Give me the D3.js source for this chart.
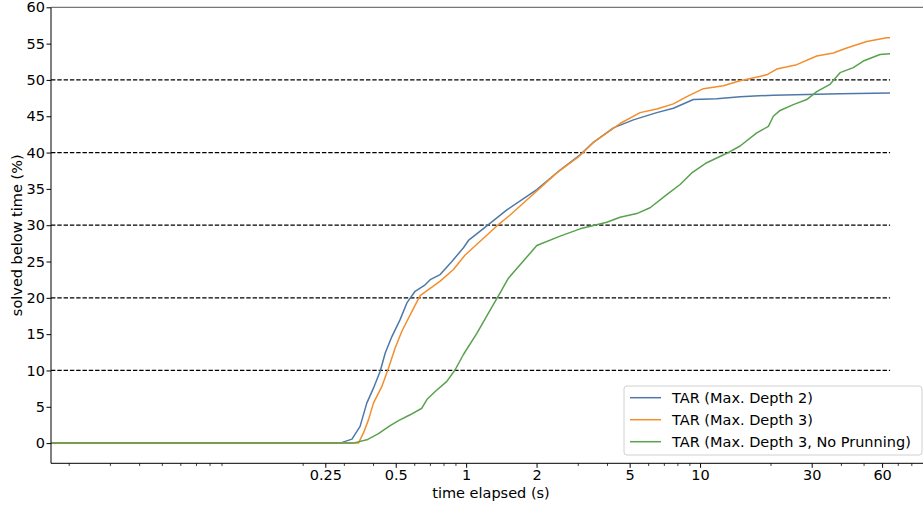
<!DOCTYPE html>
<html>
<head>
<meta charset="utf-8">
<script src="https://cdn.jsdelivr.net/npm/d3@7"></script>
<style>
  body { margin: 0; background: #fff; }
  svg { display: block; font-family: "DejaVu Sans", sans-serif; }
</style>
</head>
<body>
<div id="chart"></div>
<script>
const width = 923,
      height = 506;

const margin = {left: 51, right: 931, top: 7.3, bottom: 463.3};
const fontSize = 14.5;

// time elapsed (s)
const tMin = 0.0168, tMax = 64.9;

const depth2Time = [0.0168, 0.289, 0.325, 0.352, 0.376, 0.402, 0.429, 0.451, 0.482, 0.522, 0.558, 0.605, 0.668, 0.702,
  0.774, 0.869, 0.974, 1.023, 1.226, 1.493, 2.005, 2.522, 3.07, 3.499, 4.262, 5.188, 6.531, 7.69, 9.363, 11.79,
  14.83, 20.57, 28.58, 39.67, 64.86];
const depth2Value = [0, 0, 0.55, 2.3, 5.5, 7.6, 9.9, 12.4, 14.7, 17.0, 19.3, 20.9, 21.8, 22.5,
  23.2, 25.0, 26.9, 27.9, 29.9, 32.1, 34.9, 37.6, 39.7, 41.4, 43.4, 44.5, 45.5, 46.1, 47.3, 47.4,
  47.7, 47.9, 48.0, 48.1, 48.2];

const depth3Time = [0.0168, 0.3465, 0.364, 0.3823, 0.4016, 0.4362, 0.4655, 0.4972, 0.5311, 0.5859, 0.6359, 0.7018,
  0.7744, 0.8824, 0.9901, 1.353, 1.542, 2.005, 2.441, 3.019, 3.499, 4.55, 5.541, 6.531, 7.69, 8.773, 10.33,
  12.58, 14.83, 19.28, 21.27, 25.9, 31.53, 37.13, 42.37, 51.58, 62.8, 64.86];
const depth3Value = [0, 0, 1.4, 3.2, 5.5, 7.8, 10.3, 13.1, 15.4, 18.1, 20.3, 21.3,
  22.3, 23.9, 25.9, 29.9, 31.4, 34.7, 37.2, 39.4, 41.4, 44.0, 45.5, 46.0, 46.7, 47.7, 48.8,
  49.2, 49.9, 50.7, 51.5, 52.1, 53.3, 53.7, 54.4, 55.3, 55.8, 55.8];

const noPruneTime = [0.0168, 0.3289, 0.3763, 0.4218, 0.4734, 0.5138, 0.5763, 0.6467, 0.6794, 0.7373, 0.827, 0.8975,
  0.9738, 1.111, 1.245, 1.397, 1.516, 2.005, 2.522, 3.07, 3.995, 4.55, 5.364, 6.113, 7.205, 8.215, 9.216,
  10.68, 13.01, 14.83, 17.47, 19.59, 20.57, 21.98, 25.04, 28.58, 31.53, 35.94, 39.67, 45.19, 49.89, 58.78, 64.86];
const noPruneValue = [0, 0, 0.45, 1.3, 2.4, 3.1, 3.9, 4.8, 6.0, 7.1, 8.5, 10.1,
  12.2, 15.1, 17.9, 20.7, 22.7, 27.2, 28.5, 29.5, 30.4, 31.1, 31.6, 32.4, 34.2, 35.6, 37.2,
  38.6, 39.9, 40.9, 42.7, 43.6, 45.0, 45.8, 46.6, 47.3, 48.4, 49.4, 51.0, 51.7, 52.6, 53.5, 53.6];

const seriesNames = ['TAR (Max. Depth 2)', 'TAR (Max. Depth 3)', 'TAR (Max. Depth 3, No Prunning)'];
const seriesColors = ['#4e79a7', '#f28e2b', '#59a14f'];

const xTicks = [0.25, 0.5, 1, 2, 5, 10, 30, 60];
const xMinorTicks = [0.02, 0.03, 0.04, 0.05, 0.06, 0.07, 0.08, 0.09,
  0.2, 0.3, 0.4, 0.6, 0.7, 0.8, 0.9, 3, 4, 6, 7, 8, 9, 20, 40, 50, 70, 80, 90];
const yTicks = d3.range(0, 61, 5);
const gridValues = [10, 20, 30, 40, 50];

const series = [
  d3.zip(depth2Time, depth2Value),
  d3.zip(depth3Time, depth3Value),
  d3.zip(noPruneTime, noPruneValue)
];

const x = d3.scaleLog()
  .domain([tMin, 97.1])
  .range([margin.left, margin.right]);

const y = d3.scaleLinear()
  .domain([-2.78, 60])
  .range([margin.bottom, margin.top]);

const svg = d3.select('#chart').append('svg')
  .attr('width', width)
  .attr('height', height);

// dashed guide lines over the data extent
svg.append('g')
  .selectAll('line')
  .data(gridValues)
  .join('line')
    .attr('x1', x(tMin))
    .attr('x2', x(tMax))
    .attr('y1', d => y(d))
    .attr('y2', d => y(d))
    .attr('stroke', '#000')
    .attr('stroke-width', 1.2)
    .attr('stroke-dasharray', '4.4 1.9');

const line = d3.line()
  .x(d => x(d[0]))
  .y(d => y(d[1]));

svg.append('g')
  .selectAll('path')
  .data(series)
  .join('path')
    .attr('d', line)
    .attr('fill', 'none')
    .attr('stroke', (d, i) => seriesColors[i])
    .attr('stroke-width', 1.5)
    .attr('stroke-linejoin', 'round');

// axes
const xAxis = svg.append('g')
  .attr('transform', `translate(0,${margin.bottom})`)
  .call(d3.axisBottom(x).tickValues(xTicks).tickFormat(d => d).tickSize(4.5).tickPadding(1.5));
svg.append('g')
  .attr('transform', `translate(0,${margin.bottom})`)
  .call(d3.axisBottom(x).tickValues(xMinorTicks).tickFormat('').tickSize(2.6).tickSizeOuter(0))
  .call(g => g.select('.domain').remove())
  .selectAll('line').attr('stroke-width', 0.8);

const yAxis = svg.append('g')
  .attr('transform', `translate(${margin.left},0)`)
  .call(d3.axisLeft(y).tickValues(yTicks).tickSize(4.5).tickPadding(1.5));

[xAxis, yAxis].forEach(g => {
  g.select('.domain').remove();
  g.selectAll('text').attr('font-size', fontSize).attr('fill', '#000').attr('font-family', '"DejaVu Sans", sans-serif');
  g.selectAll('.tick line').attr('stroke-width', 1);
});

// spines
svg.append('line')
  .attr('x1', margin.left).attr('x2', margin.left)
  .attr('y1', margin.top).attr('y2', margin.bottom)
  .attr('stroke', '#000').attr('stroke-width', 1);
svg.append('line')
  .attr('x1', margin.left).attr('x2', margin.right)
  .attr('y1', margin.bottom).attr('y2', margin.bottom)
  .attr('stroke', '#000').attr('stroke-width', 1);
svg.append('line')
  .attr('x1', margin.left).attr('x2', margin.right)
  .attr('y1', margin.top).attr('y2', margin.top)
  .attr('stroke', '#555').attr('stroke-width', 1);

svg.append('text')
  .attr('x', (margin.left + margin.right) / 2)
  .attr('y', 497.5)
  .attr('text-anchor', 'middle')
  .attr('font-size', fontSize)
  .text('time elapsed (s)');

svg.append('text')
  .attr('transform', `translate(21.5,${(margin.top + margin.bottom) / 2}) rotate(-90)`)
  .attr('text-anchor', 'middle')
  .attr('font-size', fontSize)
  .text('solved below time (%)');

// legend
const legend = svg.append('g')
  .attr('transform', 'translate(624,386)');
legend.append('rect')
  .attr('width', 298)
  .attr('height', 69)
  .attr('rx', 3)
  .attr('fill', '#fff')
  .attr('fill-opacity', 0.8)
  .attr('stroke', '#d0d0d0')
  .attr('stroke-width', 1);

const rows = legend.selectAll('g.row')
  .data(seriesNames)
  .join('g')
    .attr('class', 'row')
    .attr('transform', (d, i) => `translate(0,${11.7 + i * 22})`);
rows.append('line')
  .attr('x1', 6).attr('x2', 37)
  .attr('stroke', (d, i) => seriesColors[i])
  .attr('stroke-width', 1.5);
rows.append('text')
  .attr('x', 48)
  .attr('y', 5.2)
  .attr('font-size', fontSize)
  .text(d => d);
</script>
</body>
</html>
